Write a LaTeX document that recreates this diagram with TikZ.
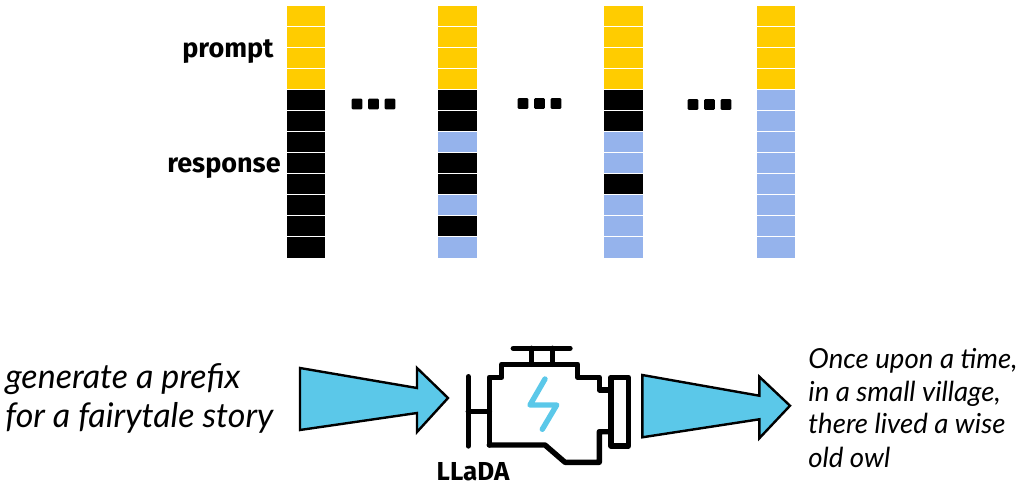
\documentclass[tikz,border=0pt]{standalone}
\usepackage{fontspec}
\setmainfont{Lato}
\newfontfamily\labelfont{Fira Sans}
\usetikzlibrary{arrows.meta, positioning}
\definecolor{celly}{HTML}{FFCC00}
\definecolor{cellk}{HTML}{000000}
\definecolor{cellb}{HTML}{95B3EC}
\definecolor{flowcol}{HTML}{5BC8E9}
\tikzset{
  cell/.style={draw=white, line width=0.4pt, minimum width=19.7pt, minimum height=10.7pt, inner sep=0pt, outer sep=0pt},
  sidelabel/.style={font=\labelfont\bfseries\fontsize{13.5}{13.5}\selectfont, inner sep=0pt},
  handtext/.style={font=\itshape\fontsize{17}{17}\selectfont, anchor=base west, inner sep=0pt},
  smallhand/.style={handtext, font=\itshape\fontsize{13.8}{13.8}\selectfont},
  flow/.style={draw=black, fill=flowcol, line width=1.2pt, line join=miter},
  engine/.style={draw=black, line width=2.7pt, line join=round, line cap=round},
  dotmark/.style={fill=black, rounded corners=0.6pt, minimum size=5.4pt, inner sep=0pt, outer sep=0pt}
}
\begin{document}
\begin{tikzpicture}[x=0.5pt, y=-0.5pt]
  \useasboundingbox (0,0) rectangle (1024,492);

  % Token columns
  \foreach \colid/\colx/\kinds in {a/306/{y,y,y,y,k,k,k,k,k,k,k,k},
                                   b/457.5/{y,y,y,y,k,k,b,k,k,b,k,b},
                                   c/623.5/{y,y,y,y,k,k,b,b,k,b,b,b},
                                   d/776/{y,y,y,y,b,b,b,b,b,b,b,b}} {
    \foreach \kind [count=\idx] in \kinds
      \node[cell, fill=cell\kind] (\colid\idx) at (\colx, {6+21*(\idx-0.5)}) {};
  }

  \node[sidelabel] (prompt) at (228,52) {prompt};
  \node[sidelabel] (response) at (224,168) {response};

  % Dots between columns
  \foreach \dotid/\dotx/\doty in {p/352/104, q/518/103.5, r/688/104.5} {
    \foreach \n in {0,1,2}
      \node[dotmark] (\dotid\n) at ({\dotx+5+16.5*\n}, \doty) {};
  }

  % Input side
  \node[handtext] (prefix) at (5,388) {generate a prefix};
  \node[handtext] (story) at (5,427) {for a fairytale story};
  \draw[flow] (300,368) -- (417,388) -- (417,368) -- (448,398) -- (417,432) -- (417,413) -- (300,430) -- cycle;

  % Engine
  \draw[engine] (468.3,376.7) -- (468.3,446);
  \draw[engine] (468.3,411.7) -- (489.3,411.7);
  \draw[engine] (489.3,445) -- (489.3,377.3) -- (501.7,377.3) -- (501.7,364.3) -- (577.7,364.3) -- (577.7,377.3)
    -- (599.3,377.3) -- (599.3,390) -- (608,390);
  \draw[engine] (608,431.7) -- (599.3,431.7) -- (599.3,462.3) -- (565,462.3) -- (545,445) -- (489.3,445);
  \draw[engine] (611,377.3) rectangle (628.3,446);
  \draw[engine] (531.7,364.3) -- (531.7,348.3);
  \draw[engine] (552.7,364.3) -- (552.7,348.3);
  \draw[engine] (513.3,348.3) -- (570,348.3);
  \draw[engine, draw=flowcol] (545,379) -- (530,405) -- (556.7,405) -- (542.3,429.3);
  \node[sidelabel, font=\labelfont\bfseries\fontsize{13}{13}\selectfont] (llada) at (473,472) {LLaDA};

  % Output side
  \draw[flow] (642.3,375) -- (759.3,395.7) -- (759.3,376.7) -- (790,405.7) -- (759.3,438.3) -- (759.3,419.3) -- (642.3,437.3) -- cycle;
  \node[smallhand] (once) at (808,368) {Once upon a time,};
  \node[smallhand] (village) at (808,401) {in a small village,};
  \node[smallhand] (lived) at (808,433) {there lived a wise};
  \node[smallhand] (owl) at (808,467) {old owl};
\end{tikzpicture}
\end{document}
